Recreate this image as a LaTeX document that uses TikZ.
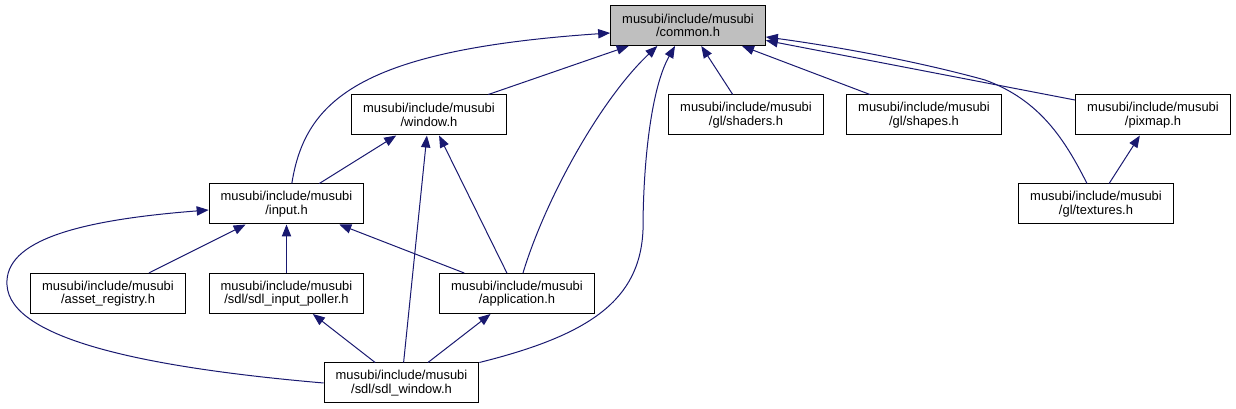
\documentclass[tikz,border=0pt]{standalone}
\usepackage{fontspec}
\setmainfont{Liberation Sans}
\usepackage{xcolor}
\usetikzlibrary{arrows.meta}
\definecolor{edgeblue}{RGB}{25, 25, 112}
\definecolor{rootgray}{RGB}{191, 191, 191}

\begin{document}
\begin{tikzpicture}[x=0.75pt, y=-0.75pt]
    \tikzstyle{hfile} = [rectangle, draw=black, line width=0.75pt, minimum width=116pt,
                         minimum height=30pt, inner sep=0pt, align=center,
                         font=\fontsize{9.7}{10}\selectfont]
    \tikzstyle{dep} = [-{Triangle[length=9pt, width=7pt]}, line width=0.75pt, color=edgeblue]

    \useasboundingbox (0,0) rectangle (1236,409);

    % rank 0
    \node[hfile, fill=rootgray] (common) at (688,25.5) {musubi/include/musubi\\/common.h};
    % rank 1
    \node[hfile] (window)  at (429,115)  {musubi/include/musubi\\/window.h};
    \node[hfile] (shaders) at (746,115)  {musubi/include/musubi\\/gl/shaders.h};
    \node[hfile] (shapes)  at (924,115)  {musubi/include/musubi\\/gl/shapes.h};
    \node[hfile] (pixmap)  at (1153,115) {musubi/include/musubi\\/pixmap.h};
    % rank 2
    \node[hfile] (input)    at (286.5,204) {musubi/include/musubi\\/input.h};
    \node[hfile] (textures) at (1096,204)  {musubi/include/musubi\\/gl/textures.h};
    % rank 3
    \node[hfile] (assetreg) at (108,293.5)   {musubi/include/musubi\\/asset\_registry.h};
    \node[hfile] (poller)   at (286.5,293.5) {musubi/include/musubi\\/sdl/sdl\_input\_poller.h};
    \node[hfile] (app)      at (517,293.5)   {musubi/include/musubi\\/application.h};
    % rank 4
    \node[hfile] (sdlwin) at (401.5,383) {musubi/include/musubi\\/sdl/sdl\_window.h};

    % straight edges
    \draw[dep] (window)   -- (common);
    \draw[dep] (shaders)  -- (common);
    \draw[dep] (shapes)   -- (common);
    \draw[dep] (pixmap)   -- (common);
    \draw[dep] (input)    -- (window);
    \draw[dep] (sdlwin)   -- (window);
    \draw[dep] (app)      -- (window);
    \draw[dep] (assetreg) -- (input);
    \draw[dep] (poller)   -- (input);
    \draw[dep] (app)      -- (input);
    \draw[dep] (sdlwin)   -- (poller);
    \draw[dep] (sdlwin)   -- (app);
    \draw[dep] (textures) -- (pixmap);

    % curved edges
    \draw[dep] ([xshift=4pt]input.north) .. controls (305,100) and (360,50) .. ([yshift=-5.6pt]common.west);
    \draw[dep] ([xshift=4.5pt]app.north) .. controls (545,200) and (600,100) .. ([xshift=-23pt]common.south);
    \draw[dep] (sdlwin.north east) .. controls (590,335) and (640,300) .. (643,230)
                                   .. controls (643,170) and (650,90) .. ([xshift=-9.75pt]common.south);
    \draw[dep] (sdlwin.west) .. controls (150,368) and (10,340) .. (7,285)
                             .. controls (4,240) and (80,220) .. ([yshift=-4.5pt]input.west);
    \draw[dep] ([xshift=-6.75pt]textures.north) .. controls (1065,140) and (1040,100) .. (985,80)
                                                .. controls (920,62) and (840,47) .. ([yshift=-8.6pt]common.east);
\end{tikzpicture}
\end{document}
